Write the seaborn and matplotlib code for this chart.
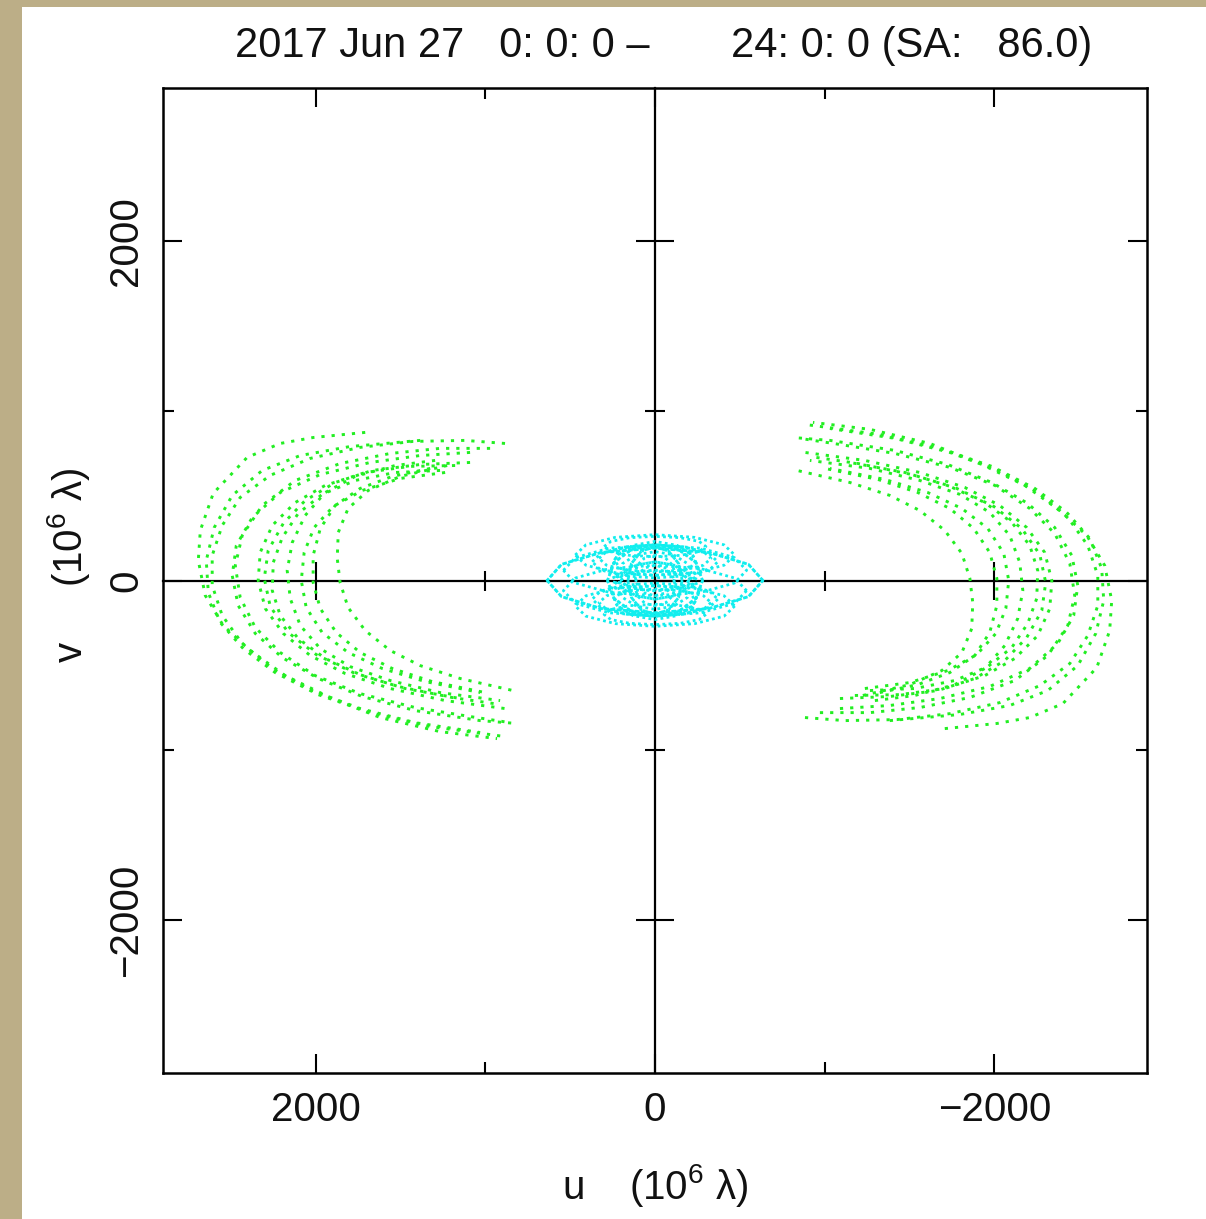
import matplotlib
matplotlib.use("Agg")
import matplotlib.pyplot as plt
import pandas as pd
import seaborn as sns
from matplotlib.patches import Rectangle

# ---------------- data (u, v in 10^6 lambda) ----------------
title_text = "2017 Jun 27   0: 0: 0 \u2013       24: 0: 0 (SA:   86.0)"
xlabel_text = "u    (10$^6$ \u03bb)"
ylabel_text = "v     (10$^6$ \u03bb)"
major_ticks = [-2000, 0, 2000]
minor_ticks = [-1000, 1000]
axis_limit = 2900

# long-baseline tracks (left-hand group; the right-hand group is their conjugate -u, -v)
g1_u = [1708, 2015, 2209, 2404, 2604, 2680, 2692, 2651, 2545, 2386, 2180, 1915, 1620, 1267, 931]
g1_v = [872, 842, 807, 725, 513, 295, 118, -88, -265, -412, -560, -689, -807, -890, -931]
g2_u = [884, 1119, 1426, 1738, 2032, 2268, 2445, 2551, 2610, 2610, 2551, 2433, 2256, 2021, 1738, 1414, 1031]
g2_v = [807, 825, 819, 784, 719, 619, 489, 324, 147, -29, -206, -371, -518, -648, -754, -837, -895]
g3_u = [1090, 1384, 1679, 1973, 2209, 2374, 2468, 2492, 2457, 2356, 2197, 1985, 1726, 1414, 1031, 813]
g3_v = [754, 736, 695, 624, 518, 371, 206, 29, -147, -312, -454, -577, -683, -766, -825, -842]
g4_u = [1178, 1443, 1708, 1944, 2121, 2256, 2327, 2339, 2297, 2191, 2032, 1826, 1561, 1237, 884]
g4_v = [677, 672, 636, 560, 459, 324, 165, 0, -165, -312, -442, -548, -636, -707, -754]
g5_u = [1267, 1532, 1767, 1962, 2103, 2197, 2250, 2256, 2209, 2103, 1944, 1726, 1473, 1149]
g5_v = [648, 636, 589, 507, 395, 253, 106, -59, -206, -342, -459, -560, -636, -695]
g6_u = [1296, 1532, 1767, 1944, 2062, 2138, 2168, 2150, 2091, 1973, 1797, 1561, 1267, 913]
g6_v = [707, 677, 613, 518, 383, 224, 59, -106, -265, -401, -507, -589, -660, -707]
g7_u = [1325, 1549, 1738, 1885, 1973, 2015, 2015, 1973, 1879, 1738, 1549, 1314, 1001]
g7_v = [660, 613, 542, 442, 306, 147, -12, -165, -306, -424, -518, -595, -660]
g8_u = [1225, 1502, 1691, 1809, 1867, 1873, 1856, 1809, 1708, 1561, 1384, 1149, 837]
g8_v = [677, 613, 530, 424, 283, 130, -12, -159, -295, -412, -501, -577, -648]
g9_u = [972, 1267, 1561, 1856, 2121, 2315, 2433, 2474, 2445, 2356, 2209, 2003, 1738, 1414, 1090, 854]
g9_v = [778, 778, 748, 689, 589, 442, 265, 88, -100, -277, -424, -560, -666, -748, -801, -837]
g10_u = [1384, 1797, 2091, 2315, 2492, 2598, 2645, 2633, 2563, 2427, 2239, 1985, 1679, 1325, 884]
g10_v = [825, 789, 736, 648, 501, 312, 118, -71, -247, -401, -542, -672, -778, -860, -919]
g11_u = [1090, 1384, 1667, 1885, 2062, 2191, 2280, 2303, 2268, 2162, 1997, 1779, 1514, 1196, 913]
g11_v = [695, 683, 648, 577, 471, 336, 177, 12, -153, -306, -436, -542, -624, -689, -730]
g12_u = [1237, 1502, 1726, 1897, 2009, 2068, 2085, 2056, 1962, 1809, 1608, 1355, 1031]
g12_v = [636, 601, 530, 436, 312, 165, 0, -159, -306, -424, -518, -595, -660]

# short-baseline tracks (each also drawn with its conjugate)
c1_u = [636, 551, 318, 0, -318, -551, -636, -551, -318, 0, 318, 551, 636]
c1_v = [0, 95, 165, 190, 165, 95, 0, -95, -165, -190, -165, -95, 0]
c2_u = [470, 407, 235, 0, -235, -407, -470, -407, -235, 0, 235, 407, 470]
c2_v = [150, 210, 254, 270, 254, 210, 150, 90, 46, 30, 46, 90, 150]
c3_u = [370, 320, 185, 0, -185, -320, -370, -320, -185, 0, 185, 320, 370]
c3_v = [110, 158, 192, 205, 192, 158, 110, 62, 28, 15, 28, 62, 110]
c4_u = [280, 242, 140, 0, -140, -242, -280, -242, -140, 0, 140, 242, 280]
c4_v = [0, 105, 182, 210, 182, 105, 0, -105, -182, -210, -182, -105, 0]
c5_u = [220, 191, 110, 0, -110, -191, -220, -191, -110, 0, 110, 191, 220]
c5_v = [30, 100, 151, 170, 151, 100, 30, -40, -91, -110, -91, -40, 30]
c6_u = [300, 260, 150, 0, -150, -260, -300, -260, -150, 0, 150, 260, 300]
c6_v = [200, 230, 252, 260, 252, 230, 200, 170, 148, 140, 148, 170, 200]
c7_u = [540, 468, 270, 0, -270, -468, -540, -468, -270, 0, 270, 468, 540]
c7_v = [60, 135, 190, 210, 190, 135, 60, -15, -70, -90, -70, -15, 60]
c8_u = [260, 225, 130, 0, -130, -225, -260, -225, -130, 0, 130, 225, 260]
c8_v = [60, 145, 207, 230, 207, 145, 60, -25, -87, -110, -87, -25, 60]
c9_u = [160, 139, 80, 0, -80, -139, -160, -139, -80, 0, 80, 139, 160]
c9_v = [0, 100, 173, 200, 173, 100, 0, -100, -173, -200, -173, -100, 0]
c10_u = [330, 286, 165, 0, -165, -286, -330, -286, -165, 0, 165, 286, 330]
c10_v = [130, 170, 199, 210, 199, 170, 130, 90, 61, 50, 61, 90, 130]
c11_u = [120, 104, 60, 0, -60, -104, -120, -104, -60, 0, 60, 104, 120]
c11_v = [30, 90, 134, 150, 134, 90, 30, -30, -74, -90, -74, -30, 30]
c12_u = [240, 208, 120, 0, -120, -208, -240, -208, -120, 0, 120, 208, 240]
c12_v = [120, 165, 198, 210, 198, 165, 120, 75, 42, 30, 42, 75, 120]
c13_u = [200, 173, 100, 0, -100, -173, -200, -173, -100, 0, 100, 173, 200]
c13_v = [0, 30, 52, 60, 52, 30, 0, -30, -52, -60, -52, -30, 0]

green_tracks = {"g1": (g1_u, g1_v), "g2": (g2_u, g2_v), "g3": (g3_u, g3_v), "g4": (g4_u, g4_v),
                "g5": (g5_u, g5_v), "g6": (g6_u, g6_v), "g7": (g7_u, g7_v), "g8": (g8_u, g8_v),
                "g9": (g9_u, g9_v), "g10": (g10_u, g10_v), "g11": (g11_u, g11_v),
                "g12": (g12_u, g12_v)}
cyan_tracks = {"c1": (c1_u, c1_v), "c2": (c2_u, c2_v), "c3": (c3_u, c3_v), "c4": (c4_u, c4_v),
               "c5": (c5_u, c5_v), "c6": (c6_u, c6_v), "c7": (c7_u, c7_v), "c8": (c8_u, c8_v),
               "c9": (c9_u, c9_v), "c10": (c10_u, c10_v), "c11": (c11_u, c11_v),
               "c12": (c12_u, c12_v), "c13": (c13_u, c13_v)}


def to_frame(tracks):
    rows = []
    for name, (us, vs) in tracks.items():
        for i, (u, v) in enumerate(zip(us, vs)):
            rows.append((name, i, u, v))
            rows.append((name + "_conj", i, -u, -v))
    return pd.DataFrame(rows, columns=["track", "order", "u", "v"]).sort_values(["track", "order"])


dfg = to_frame(green_tracks)
dfc = to_frame(cyan_tracks)

# ---------------- style ----------------
sns.set_theme(style="ticks")
plt.rcParams["font.family"] = ["Liberation Sans", "DejaVu Sans"]
plt.rcParams["mathtext.fontset"] = "custom"
plt.rcParams["mathtext.rm"] = "Liberation Sans"
plt.rcParams["mathtext.it"] = "Liberation Sans:italic"
plt.rcParams["axes.unicode_minus"] = True

FS = 29
W, H = 1206, 1219
fig = plt.figure(figsize=(W / 100, H / 100), dpi=100)
fig.patch.set_facecolor("#bcae87")
fig.add_artist(Rectangle((22 / W, 0), 1, 1 - 7 / H, transform=fig.transFigure,
                         facecolor="white", edgecolor="none", zorder=-5))

pos = [163 / W, 1 - 1073 / H, (1147 - 163) / W, (1073 - 88) / H]

# background axes: white patch + cross-hair through the origin
ax0 = fig.add_axes(pos)
ax0.set_zorder(0)
ax0.set_facecolor("white")
ax0.set_xlim(axis_limit, -axis_limit)
ax0.set_ylim(-axis_limit, axis_limit)
for s in ["top", "right"]:
    ax0.spines[s].set_visible(False)
for s in ["left", "bottom"]:
    ax0.spines[s].set_position(("data", 0))
    ax0.spines[s].set_linewidth(1.6)
    ax0.spines[s].set_color("black")
ax0.set_xticks(major_ticks)
ax0.set_xticks(minor_ticks, minor=True)
ax0.set_yticks(major_ticks)
ax0.set_yticks(minor_ticks, minor=True)
ax0.tick_params(which="both", direction="inout", labelbottom=False, labelleft=False,
                top=False, right=False, width=1.5, color="black")
ax0.tick_params(which="major", length=27)
ax0.tick_params(which="minor", length=14)

# main axes (transparent) with data and frame
ax = fig.add_axes(pos)
ax.set_zorder(1)
ax.patch.set_visible(False)

green = "#22ee22"
cyan = "#11eeee"

n0 = len(ax.lines)
sns.lineplot(data=dfg, x="u", y="v", units="track", estimator=None, sort=False,
             color=green, linewidth=2.1, ax=ax, legend=False)
for ln in ax.lines[n0:]:
    ln.set_linestyle((0, (1.1, 2.4)))
    ln.set_dash_capstyle("butt")
n1 = len(ax.lines)
sns.lineplot(data=dfc, x="u", y="v", units="track", estimator=None, sort=False,
             color=cyan, linewidth=2.0, ax=ax, legend=False)
for ln in ax.lines[n1:]:
    ln.set_linestyle((0, (1, 1.2)))
    ln.set_dash_capstyle("butt")

ax.set_xlim(axis_limit, -axis_limit)
ax.set_ylim(-axis_limit, axis_limit)
ax.set_xticks(major_ticks)
ax.set_xticks(minor_ticks, minor=True)
ax.set_yticks(major_ticks)
ax.set_yticks(minor_ticks, minor=True)
ax.set_xticklabels([f"{t}" if t >= 0 else f"\u2212{abs(t)}" for t in major_ticks])
ax.set_yticklabels([f"{t}" if t >= 0 else f"\u2212{abs(t)}" for t in major_ticks])
ax.tick_params(which="both", direction="in", top=True, right=True, width=1.5,
               color="black", labelsize=FS, labelcolor="#111111")
ax.tick_params(which="major", length=14, pad=13)
ax.tick_params(which="minor", length=8)
ax.tick_params(axis="y", labelrotation=90)
for lab in ax.get_yticklabels():
    lab.set_va("center")
for s in ax.spines.values():
    s.set_linewidth(1.8)
    s.set_color("black")
    s.set_visible(True)

ax.set_title(title_text, fontsize=30, pad=22, color="#111111", x=0.509)
ax.set_xlabel(xlabel_text, fontsize=FS, labelpad=24, color="#111111")
ax.set_ylabel(ylabel_text, fontsize=FS, color="#111111")
ax.yaxis.set_label_coords(-0.072, 0.515)

fig.savefig("out.png", dpi=100, facecolor=fig.get_facecolor())
